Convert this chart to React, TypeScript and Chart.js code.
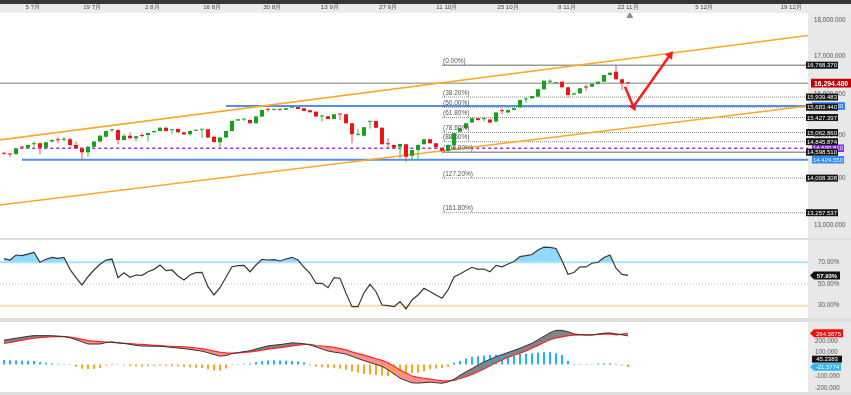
import React, { useEffect, useRef } from 'react';
import { Chart, registerables } from 'chart.js';
Chart.register(...registerables);

// ---------- data ----------
const dateLabels = ['5 7月', '19 7月', '2 8月', '16 8月', '30 8月', '13 9月', '27 9月', '11 10月', '25 10月', '8 11月', '22 11月', '5 12月', '19 12月'];
const dateTickIndex = [4.8, 14.7, 24.7, 34.7, 44.7, 54.3, 64, 73.8, 84, 93.8, 104, 116.7, 131.2];

const opens = [14584,14561,14557,14721,14705,14785,14809,14705,14847,14892,
14892,14904,14769,14691,14596,14728,14847,14965,15117,15124,
14887,14989,14927,14994,15006,15069,15100,15181,15117,15149,
15069,15022,15107,15131,15141,14965,14833,14942,15100,15352,
15382,15370,15288,15450,15627,15620,15627,15622,15672,15689,
15657,15608,15573,15450,15460,15394,15509,15509,15288,15013,
14989,15323,15345,15181,14792,14769,14728,14785,14518,14650,
14785,14904,14809,14691,14633,14769,15084,15166,15303,15411,
15387,15382,15328,15591,15549,15615,15681,15878,15909,15950,
16138,16333,16292,16333,16190,16001,16037,16190,16205,16274,
16333,16510,16597,16397,16307];
const highs = [14596,14568,14698,14726,14780,14847,14828,14840,14899,14965,
14965,14941,14847,14710,14745,14863,15006,15112,15136,15136,
15022,15069,14982,15046,15065,15112,15191,15191,15136,15161,
15077,15112,15136,15149,15149,14975,14951,15112,15358,15394,
15394,15377,15460,15627,15657,15640,15640,15664,15706,15696,
15664,15615,15583,15492,15468,15517,15517,15517,15296,15157,
15198,15345,15352,15191,14927,14776,14799,14792,14657,14776,
14911,14911,14816,14698,14776,15053,15173,15296,15419,15419,
15436,15394,15559,15657,15622,15664,15873,15934,15975,16146,
16370,16397,16299,16344,16197,16044,16172,16248,16281,16344,
16518,16581,16768.37,16404,16312];
const lows = [14534,14495,14534,14698,14674,14728,14550,14686,14828,14809,
14847,14728,14674,14442,14495,14710,14828,14946,15069,14785,
14875,14916,14847,14942,14847,15053,15088,15088,15022,15053,
15006,14989,15100,14934,14927,14828,14705,14934,15088,15345,
15345,15279,15279,15443,15573,15603,15603,15615,15664,15632,
15583,15549,15443,15328,15387,15387,15370,15279,14809,14989,
14982,15157,15173,14776,14705,14698,14465,14380,14419,14419,
14776,14799,14705,14598.51,14605,14698,15077,15156,15296,15362,
15328,15296,15321,15517,15541,15608,15660,15797,15899,15942,
16128,16274,16286,16179,15934,15993,16026,16103,16197,16266,
16326,16502,16386,16121,16286];
const closes = [14561,14543,14691,14707,14769,14809,14705,14833,14887,14882,
14904,14769,14691,14596,14728,14847,14989,15100,15131,14887,
14989,14927,14975,14982,15053,15100,15181,15100,15124,15069,
15022,15100,15124,15141,14942,14840,14942,15100,15345,15387,
15387,15288,15450,15615,15620,15627,15620,15657,15696,15640,
15591,15559,15450,15460,15394,15509,15500,15288,15022,15022,
15190,15330,15181,14785,14783,14705,14792,14495,14650,14769,
14904,14809,14714,14633,14769,15046,15166,15288,15411,15370,
15394,15303,15549,15581,15615,15657,15866,15883,15968,16138,
16360,16339,16297,16190,15993,16037,16165,16182,16274,16333,
16510,16570,16397,16292,16294.48];

const lastPrice = 16294.48;
const fibStartIndex = 73;
const fibValues = [16768.37, 15939.483, 15683.44, 15427.397, 15062.86, 14845.874, 14598.51, 14008.308, 13257.537];
const fibPercents = ['0.00%', '38.20%', '50.00%', '61.80%', '78.60%', '88.60%', '100.00%', '127.20%', '161.80%'];
const fibSolid = [true, false, false, false, false, false, true, false, false];

const blueHighLevel = 15711.06;
const blueHighStart = 37;
const blueLowLevel = 14424.55;
const blueLowStart = 3;
const purpleLevel = 14690.81;
const purpleStart = 2.7;

const channelUpper = [[-0.667, 14887], [134, 17583]];
const channelLower = [[-0.667, 13421], [134, 15713]];
const arrowPath = [[103.5, 16205], [104.9, 15696], [111, 17041]];
const markerPoint = [104.3, 18136];

const mainTicks = [13000, 14000, 15000, 16000, 17000, 18000];

const rsi = [73.4,72.1,76.7,76.1,77.6,79.2,70.0,72.8,74.6,73.7,
74.6,63.5,55.8,49.1,56.7,62.9,68.2,72.1,73.0,55.8,
60.4,56.2,58.3,58.0,61.3,63.5,67.5,62.3,62.9,57.4,
53.7,58.3,60.4,60.8,47.5,39.9,46.6,56.2,65.9,66.9,
67.2,61.3,67.5,72.8,72.1,72.4,71.2,73.0,74.6,72.1,
65.4,59.9,50.6,50.6,46.6,55.8,55.3,41.4,29.1,29.1,
42.0,49.7,42.9,30.6,30.0,29.1,33.7,27.0,35.3,39.9,
46.0,43.1,39.9,36.8,44.5,56.5,59.2,62.4,65.4,63.5,
63.8,61.3,67.2,65.9,68.4,70.7,75.2,76.1,77.2,81.3,
83.9,83.8,82.7,71.7,58.9,60.6,65.9,65.7,69.1,70.0,
74.4,76.7,64.5,58.9,57.93];
const rsiTicks = [30, 50, 70];
const rsiLast = 57.93;

const macd = [207,215,223,231,239,245,245,245,244,241,
238,227,211,193,174,174,174,186,192,185,
179,171,162,157,156,155,155,150,145,140,
134,128,121,113,100,85,71,76,92,101,
109,117,131,145,158,164,169,176,184,181,
176,166,149,132,115,105,98,88,69,50,
33,16,0,-16,-45,-80,-117,-137,-156,-158,
-155,-150,-155,-160,-148,-126,-92,-62,-35,-5,
22,44,66,84,102,119,139,160,180,210,
240,270,290,290,278,260,254,250,251,258,
266,268,260,252,243];
const signal = [178,188,197,207,216,223,228,233,236,236,
236,232,224,213,202,198,194,191,188,184,
180,177,173,171,167,163,160,157,155,152,
149,145,140,135,125,114,104,99,96,98,
102,106,114,122,130,137,143,150,158,164,
170,172,161,157,152,145,135,124,107,92,
79,64,49,35,15,-15,-47,-73,-98,-110,
-117,-124,-132,-140,-140,-135,-119,-104,-84,-62,
-39,-11,16,38,62,78,96,116,138,162,
187,210,226,235,245,250,251,251,251,255,
258,260,252,258,264.5675];
const histogram = [38,36,35,33,32,30,20,15,10,6,
3,-4,-20,-35,-40,-38,-30,-8,4,2,
-8,-12,-15,-18,-14,-12,-10,-12,-14,-15,
-20,-25,-28,-30,-40,-50,-52,-35,-5,4,
6,8,20,28,34,36,34,32,30,26,
18,-6,-18,-22,-28,-32,-35,-45,-60,-70,
-80,-85,-90,-95,-100,-90,-95,-80,-75,-70,
-60,-40,-35,-30,-20,15,30,50,65,70,
75,80,82,85,85,88,90,92,95,100,
105,105,95,80,30,5,4,3,3,8,
10,10,5,-8,-21.5774];
const macdTicks = [-200, -100, 100, 200];
const macdTagValues = [264.5675, 45.2383, -21.5774];

// ---------- helpers ----------
const X_MIN = -0.667;
const X_MAX = 134;
const FONT = "'Liberation Sans', Arial, sans-serif";
const fmt3 = (v: number) => v.toLocaleString('en-US', { minimumFractionDigits: 3, maximumFractionDigits: 3 });
const fmt4 = (v: number) => v.toLocaleString('en-US', { minimumFractionDigits: 4, maximumFractionDigits: 4 });

const zeroPad = (s: any) => { s.paddingLeft = 0; s.paddingRight = 0; s.paddingTop = 0; s.paddingBottom = 0; };

function hline(value: number, from: number, color: string, width: number, dash: number[] = [], order = 5) {
  return {
    type: 'line', data: [{ x: from, y: value }, { x: X_MAX, y: value }],
    borderColor: color, borderWidth: width, borderDash: dash, pointRadius: 0, fill: false, order,
  };
}

function drawTag(ctx: CanvasRenderingContext2D, x: number, y: number, w: number, h: number, bg: string, fg: string, text: string, font: string, pointed = false) {
  ctx.save();
  ctx.fillStyle = bg;
  ctx.beginPath();
  if (pointed) {
    ctx.moveTo(x, y);
    ctx.lineTo(x + 4, y - h / 2);
    ctx.lineTo(x + w, y - h / 2);
    ctx.lineTo(x + w, y + h / 2);
    ctx.lineTo(x + 4, y + h / 2);
    ctx.closePath();
  } else {
    ctx.rect(x, y - h / 2, w, h);
  }
  ctx.fill();
  ctx.fillStyle = fg;
  ctx.font = font;
  ctx.textAlign = 'center';
  ctx.textBaseline = 'middle';
  ctx.fillText(text, x + w / 2 + (pointed ? 2 : 0), y + 0.5);
  ctx.restore();
}

function rightAxis(type: string, min: number, max: number, ticks: number[], fmt: (v: number) => string, pad: number) {
  return {
    type, position: 'right', min, max,
    grid: { display: false, drawTicks: false }, border: { display: false },
    ticks: { font: { size: 6.3, family: FONT }, color: '#555', padding: pad, autoSkip: false, callback: (v: any) => fmt(Number(v)) },
    afterBuildTicks: (s: any) => { s.ticks = ticks.map(v => ({ value: v })); },
    afterFit: (s: any) => { s.width = 43; zeroPad(s); },
  };
}

const hiddenX = {
  type: 'linear', min: X_MIN, max: X_MAX, display: false, offset: false,
};

const baseOptions = {
  responsive: false, animation: false, events: [],
  layout: { padding: 0, autoPadding: false },
};
const basePlugins = { legend: { display: false }, tooltip: { enabled: false }, filler: { drawTime: 'beforeDatasetsDraw' } };

const GREEN = '#17a317';
const RED = '#ee1414';

function makeMain(canvas: HTMLCanvasElement) {
  const idx = closes.map((_, i) => i);
  const upFlags = idx.map(i => closes[i] >= opens[i]);
  const datasets: any[] = [
    {
      type: 'bar', data: idx.map(i => ({ x: i, y: [opens[i], closes[i]] })),
      backgroundColor: upFlags.map(u => (u ? GREEN : RED)), borderWidth: 0,
      grouped: false, maxBarThickness: 4, minBarLength: 1, order: 1,
    },
    {
      type: 'bar', data: idx.map(i => ({ x: i, y: [lows[i], highs[i]] })),
      backgroundColor: upFlags.map(u => (u ? '#43b843' : '#f05050')), borderWidth: 0,
      grouped: false, maxBarThickness: 1, order: 2,
    },
    {
      type: 'line', data: arrowPath.map(p => ({ x: p[0], y: p[1] })),
      borderColor: '#ff1a1a', borderWidth: 2.5, pointStyle: 'triangle',
      pointRadius: [0, 5, 5], pointRotation: [0, 157, 36],
      pointBackgroundColor: '#ff1a1a', pointBorderColor: '#ff1a1a', pointBorderWidth: 0, fill: false, order: 0,
    },
    {
      type: 'line', data: [{ x: markerPoint[0], y: markerPoint[1] }], showLine: false,
      pointStyle: 'triangle', pointRadius: 3.2, pointBackgroundColor: '#8a8a8a', pointBorderColor: '#8a8a8a', order: 0,
    },
    {
      type: 'line', data: channelUpper.map(p => ({ x: p[0], y: p[1] })), borderColor: '#ffa726', borderWidth: 1.6, pointRadius: 0, fill: false, order: 6,
    },
    {
      type: 'line', data: channelLower.map(p => ({ x: p[0], y: p[1] })), borderColor: '#ffa726', borderWidth: 1.6, pointRadius: 0, fill: false, order: 6,
    },
    hline(lastPrice, X_MIN, '#a8a8a8', 1.5, [], 8),
    hline(blueHighLevel, blueHighStart, '#4f8fef', 2, [], 7),
    hline(blueLowLevel, blueLowStart, '#4f8fef', 2, [], 7),
    hline(purpleLevel, purpleStart, '#9a2cf5', 1.5, [3, 3], 7),
    ...fibValues.map((v, k) => fibSolid[k]
      ? hline(v, fibStartIndex, '#9a9a9a', 1.6, [], 8)
      : hline(v, fibStartIndex, '#8c8c8c', 1, [1, 1], 8)),
  ];

  const tagsPlugin = {
    id: 'mainTags',
    afterDatasetsDraw(chart: any) {
      const { ctx, scales: { x, y } } = chart;
      ctx.save();
      ctx.font = `6.5px ${FONT}`;
      ctx.fillStyle = '#555';
      ctx.textAlign = 'left';
      ctx.textBaseline = 'alphabetic';
      const x0 = x.getPixelForValue(fibStartIndex) + 1;
      fibValues.forEach((v, k) => {
        ctx.fillText(`(${fibPercents[k]})`, x0, y.getPixelForValue(v) - 2.5);
      });
      ctx.restore();
    },
    afterDraw(chart: any) {
      const { ctx, scales: { y } } = chart;
      const f = `6px ${FONT}`;
      drawTag(ctx, 812, y.getPixelForValue(blueHighLevel), 33, 7.5, '#2f7ef0', '#fff', fmt3(blueHighLevel), f);
      drawTag(ctx, 812, y.getPixelForValue(purpleLevel), 32, 7.5, '#8a2be2', '#fff', fmt3(purpleLevel), f);
      drawTag(ctx, 812, y.getPixelForValue(blueLowLevel), 32, 7.5, '#2e8bf0', '#e8f3ff', fmt3(blueLowLevel), f);
      fibValues.forEach(v => drawTag(ctx, 806, y.getPixelForValue(v), 32, 7, '#141414', '#fff', fmt3(v), f));
      drawTag(ctx, 811, y.getPixelForValue(lastPrice), 40, 8.7, '#c40000', '#fff', fmt3(lastPrice), `bold 6.8px ${FONT}`);
    },
  };

  return new Chart(canvas, {
    type: 'line',
    data: { datasets },
    options: {
      ...baseOptions,
      plugins: basePlugins,
      scales: {
        x: {
          type: 'linear', position: 'top', min: X_MIN, max: X_MAX, offset: false,
          grid: { display: false, drawTicks: false }, border: { display: false },
          ticks: { font: { size: 6.2, family: FONT }, color: '#444', padding: 1, autoSkip: false, maxRotation: 0, callback: (_v: any, i: number) => dateLabels[i] ?? '' },
          afterBuildTicks: (s: any) => { s.ticks = dateTickIndex.map(v => ({ value: v })); },
          afterFit: (s: any) => { s.height = 8.5; zeroPad(s); },
        },
        y: rightAxis('logarithmic', 12734, 18237, mainTicks, fmt3, 6),
      },
    } as any,
    plugins: [tagsPlugin],
  } as any);
}

function makeRsi(canvas: HTMLCanvasElement) {
  const pts = rsi.map((v, i) => ({ x: i, y: v }));
  const datasets: any[] = [
    {
      type: 'line', data: pts, borderColor: '#383838', borderWidth: 1.2, pointRadius: 0,
      fill: { target: { value: 70 }, above: 'rgba(125,212,250,0.85)', below: 'rgba(0,0,0,0)' }, order: 0,
    },
    {
      type: 'line', data: pts, borderColor: 'rgba(0,0,0,0)', borderWidth: 1, pointRadius: 0,
      fill: { target: { value: 30 }, above: 'rgba(0,0,0,0)', below: 'rgba(255,190,90,0.85)' }, order: 4,
    },
    hline(70, X_MIN, '#a9e3f7', 2, [], 3),
    hline(50, X_MIN, '#bcbcbc', 1, [1, 2], 3),
    hline(30, X_MIN, '#fde0ac', 2, [], 3),
  ];
  const tags = {
    id: 'rsiTags',
    afterDraw(chart: any) {
      const { ctx, scales: { y } } = chart;
      drawTag(ctx, 810, y.getPixelForValue(rsiLast), 30, 8, '#111', '#fff', `${rsiLast.toFixed(2)}%`, `bold 6px ${FONT}`, true);
    },
  };
  return new Chart(canvas, {
    type: 'line', data: { datasets },
    options: {
      ...baseOptions, plugins: basePlugins,
      scales: { x: hiddenX, y: rightAxis('linear', 18.66, 90.55, rsiTicks, v => `${v.toFixed(2)}%`, 10) },
    } as any,
    plugins: [tags],
  } as any);
}

function makeMacd(canvas: HTMLCanvasElement) {
  const datasets: any[] = [
    {
      type: 'line', data: macd.map((v, i) => ({ x: i, y: v })), borderColor: '#333', borderWidth: 1, pointRadius: 0,
      fill: { target: 1, above: 'rgba(118,118,118,0.9)', below: 'rgba(255,105,105,0.75)' }, order: 0,
    },
    {
      type: 'line', data: signal.map((v, i) => ({ x: i, y: v })), borderColor: '#ff2424', borderWidth: 1.2, pointRadius: 0, fill: false, order: 1,
    },
    {
      type: 'bar', data: histogram.map((v, i) => ({ x: i, y: v })),
      backgroundColor: histogram.map(v => (v >= 0 ? '#1cb5f5' : '#ffa41c')), borderWidth: 0,
      grouped: false, maxBarThickness: 2, order: 2,
    },
  ];
  const tags = {
    id: 'macdTags',
    afterDraw(chart: any) {
      const { ctx, scales: { y } } = chart;
      drawTag(ctx, 810, y.getPixelForValue(macdTagValues[0]), 33, 8, '#f01010', '#fff', fmt4(macdTagValues[0]), `6px ${FONT}`, true);
      drawTag(ctx, 812, y.getPixelForValue(macdTagValues[1]), 30, 7, '#111', '#fff', fmt4(macdTagValues[1]), `6px ${FONT}`);
      drawTag(ctx, 810, y.getPixelForValue(macdTagValues[2]), 31, 7.5, '#29b8f3', '#fff', fmt4(macdTagValues[2]), `6px ${FONT}`, true);
    },
  };
  return new Chart(canvas, {
    type: 'line', data: { datasets },
    options: {
      ...baseOptions, plugins: basePlugins,
      scales: { x: hiddenX, y: rightAxis('linear', -234, 361, macdTicks, fmt3, 7) },
    } as any,
    plugins: [tags],
  } as any);
}

export default function App() {
  const mainRef = useRef<HTMLCanvasElement>(null);
  const rsiRef = useRef<HTMLCanvasElement>(null);
  const macdRef = useRef<HTMLCanvasElement>(null);

  useEffect(() => {
    document.body.style.margin = '0';
    Chart.defaults.font.family = FONT;
    const charts = [makeMain(mainRef.current!), makeRsi(rsiRef.current!), makeMacd(macdRef.current!)];
    return () => charts.forEach(c => c.destroy());
  }, []);

  const abs = (left: number, top: number, width: number, height: number, background: string): React.CSSProperties =>
    ({ position: 'absolute', left, top, width, height, background });

  return (
    <div style={{ position: 'absolute', left: 0, top: 0, width: 851, height: 395, background: '#dedede', overflow: 'hidden' }}>
      <div style={abs(0, 0, 851, 4, '#363636')} />
      <div style={abs(0, 4, 851, 8.5, '#ebebeb')} />
      <div style={abs(0, 12.5, 808, 225.5, '#ffffff')} />
      <div style={abs(808, 12.5, 43, 225.5, '#e8e8e8')} />
      <div style={abs(0, 240, 808, 78, '#ffffff')} />
      <div style={abs(808, 240, 43, 78, '#e8e8e8')} />
      <div style={abs(0, 322, 808, 70, '#ffffff')} />
      <div style={abs(808, 322, 43, 70, '#e8e8e8')} />
      <canvas ref={mainRef} width={851} height={234} style={{ position: 'absolute', left: 0, top: 4 }} />
      <canvas ref={rsiRef} width={851} height={78} style={{ position: 'absolute', left: 0, top: 240 }} />
      <canvas ref={macdRef} width={851} height={70} style={{ position: 'absolute', left: 0, top: 322 }} />
    </div>
  );
}
